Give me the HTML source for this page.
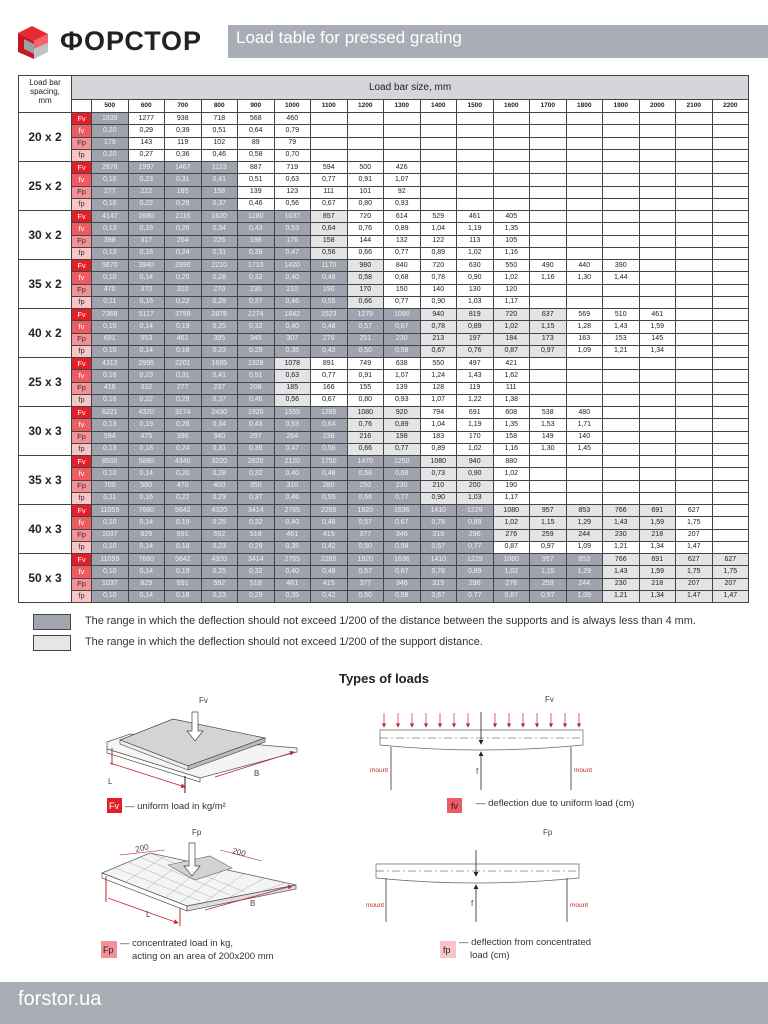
<!DOCTYPE html>
<html><head><meta charset="utf-8">
<style>
*{margin:0;padding:0;box-sizing:border-box}
body{width:768px;height:1024px;position:relative;background:#fff;font-family:"Liberation Sans",sans-serif;color:#222;overflow:hidden}
.abs{position:absolute}
table{position:absolute;left:18px;top:75px;border-collapse:collapse;table-layout:fixed;width:730px;font-size:7px;text-align:center}
td{border:1px solid #444;padding:0;height:12.25px;line-height:10px;overflow:hidden;white-space:nowrap}
td.d{background:#9ea3ad;color:#f2f2f4}
td.l{background:#e4e4e6}
td.g{font-size:12px;font-weight:bold;background:#fff;color:#222}
td.t1{background:#e1202a;color:#fff;font-size:7.5px}
td.t2{background:#ee5c63;color:#fff;font-size:7.5px}
td.t3{background:#f39196;color:#333;font-size:7.5px}
td.t4{background:#f9c4c7;color:#333;font-size:7.5px}
tr.h1 td{height:24px}
tr.h2 td{height:13px;font-weight:bold;font-size:6.5px}
.hd{background:#d4d6da;font-size:10px}
.sm{font-size:8px;line-height:9px}
.leg{font-size:10.9px;color:#333}
</style></head><body>
<!-- header -->
<svg class="abs" style="left:16px;top:25px" width="36" height="36" viewBox="0 0 36 36">
<polygon points="2,8 16,1 32,9 18,16" fill="#e42b32"/>
<polygon points="2,8 18,16 18,34 2,27" fill="#c8161f"/>
<polygon points="18,16 32,9 32,18 18,24" fill="#f0666b"/>
<polygon points="18,24 32,18 32,27 18,34" fill="#bfc2c7"/>
<polygon points="8,14 18,19 18,29 8,24" fill="#9aa0a8"/>
</svg>
<div class="abs" style="left:60px;top:26px;font-size:27px;font-weight:bold;letter-spacing:1px;color:#222">ФОРСТОР</div>
<div class="abs" style="left:228px;top:25px;width:540px;height:33px;background:#a9adb5"></div>
<div class="abs" style="left:236px;top:27px;font-size:17px;color:#fff;line-height:22px">Load table for pressed grating</div>

<table>
<colgroup><col style="width:53px"><col style="width:20px"><col span="18" style="width:36.5px"></colgroup>
<tr class="h1"><td rowspan="2" class="sm" style="vertical-align:top;padding-top:2px">Load bar<br>spacing,<br>mm</td><td colspan="19" class="hd">Load bar size, mm</td></tr>
<tr class="h2"><td></td><td>500</td><td>600</td><td>700</td><td>800</td><td>900</td><td>1000</td><td>1100</td><td>1200</td><td>1300</td><td>1400</td><td>1500</td><td>1600</td><td>1700</td><td>1800</td><td>1900</td><td>2000</td><td>2100</td><td>2200</td></tr>

<tr><td rowspan="4" class="g">20 x 2</td><td class="t1">Fv</td><td class="d">1839</td><td>1277</td><td>938</td><td>718</td><td>568</td><td>460</td><td></td><td></td><td></td><td></td><td></td><td></td><td></td><td></td><td></td><td></td><td></td><td></td></tr>
<tr><td class="t2">fv</td><td class="d">0,20</td><td>0,29</td><td>0,39</td><td>0,51</td><td>0,64</td><td>0,79</td><td></td><td></td><td></td><td></td><td></td><td></td><td></td><td></td><td></td><td></td><td></td><td></td></tr>
<tr><td class="t3">Fp</td><td class="d">179</td><td>143</td><td>119</td><td>102</td><td>89</td><td>79</td><td></td><td></td><td></td><td></td><td></td><td></td><td></td><td></td><td></td><td></td><td></td><td></td></tr>
<tr><td class="t4">fp</td><td class="d">0,20</td><td>0,27</td><td>0,36</td><td>0,46</td><td>0,58</td><td>0,70</td><td></td><td></td><td></td><td></td><td></td><td></td><td></td><td></td><td></td><td></td><td></td><td></td></tr>

<tr><td rowspan="4" class="g">25 x 2</td><td class="t1">Fv</td><td class="d">2876</td><td class="d">1997</td><td class="d">1467</td><td class="d">1123</td><td>887</td><td>719</td><td>594</td><td>500</td><td>426</td><td></td><td></td><td></td><td></td><td></td><td></td><td></td><td></td><td></td></tr>
<tr><td class="t2">fv</td><td class="d">0,16</td><td class="d">0,23</td><td class="d">0,31</td><td class="d">0,41</td><td>0,51</td><td>0,63</td><td>0,77</td><td>0,91</td><td>1,07</td><td></td><td></td><td></td><td></td><td></td><td></td><td></td><td></td><td></td></tr>
<tr><td class="t3">Fp</td><td class="d">277</td><td class="d">222</td><td class="d">185</td><td class="d">158</td><td>139</td><td>123</td><td>111</td><td>101</td><td>92</td><td></td><td></td><td></td><td></td><td></td><td></td><td></td><td></td><td></td></tr>
<tr><td class="t4">fp</td><td class="d">0,16</td><td class="d">0,22</td><td class="d">0,29</td><td class="d">0,37</td><td>0,46</td><td>0,56</td><td>0,67</td><td>0,80</td><td>0,93</td><td></td><td></td><td></td><td></td><td></td><td></td><td></td><td></td><td></td></tr>

<tr><td rowspan="4" class="g">30 x 2</td><td class="t1">Fv</td><td class="d">4147</td><td class="d">2880</td><td class="d">2116</td><td class="d">1620</td><td class="d">1280</td><td class="d">1037</td><td class="l">857</td><td>720</td><td>614</td><td>529</td><td>461</td><td>405</td><td></td><td></td><td></td><td></td><td></td><td></td></tr>
<tr><td class="t2">fv</td><td class="d">0,13</td><td class="d">0,19</td><td class="d">0,26</td><td class="d">0,34</td><td class="d">0,43</td><td class="d">0,53</td><td class="l">0,64</td><td>0,76</td><td>0,89</td><td>1,04</td><td>1,19</td><td>1,35</td><td></td><td></td><td></td><td></td><td></td><td></td></tr>
<tr><td class="t3">Fp</td><td class="d">398</td><td class="d">317</td><td class="d">264</td><td class="d">226</td><td class="d">198</td><td class="d">176</td><td class="l">158</td><td>144</td><td>132</td><td>122</td><td>113</td><td>105</td><td></td><td></td><td></td><td></td><td></td><td></td></tr>
<tr><td class="t4">fp</td><td class="d">0,13</td><td class="d">0,18</td><td class="d">0,24</td><td class="d">0,31</td><td class="d">0,39</td><td class="d">0,47</td><td class="l">0,56</td><td>0,66</td><td>0,77</td><td>0,89</td><td>1,02</td><td>1,16</td><td></td><td></td><td></td><td></td><td></td><td></td></tr>

<tr><td rowspan="4" class="g">35 x 2</td><td class="t1">Fv</td><td class="d">5670</td><td class="d">3940</td><td class="d">2890</td><td class="d">2210</td><td class="d">1710</td><td class="d">1420</td><td class="d">1170</td><td class="l">980</td><td>840</td><td>720</td><td>630</td><td>550</td><td>490</td><td>440</td><td>390</td><td></td><td></td><td></td></tr>
<tr><td class="t2">fv</td><td class="d">0,10</td><td class="d">0,14</td><td class="d">0,20</td><td class="d">0,28</td><td class="d">0,32</td><td class="d">0,40</td><td class="d">0,48</td><td class="l">0,58</td><td>0,68</td><td>0,78</td><td>0,90</td><td>1,02</td><td>1,16</td><td>1,30</td><td>1,44</td><td></td><td></td><td></td></tr>
<tr><td class="t3">Fp</td><td class="d">470</td><td class="d">370</td><td class="d">310</td><td class="d">270</td><td class="d">230</td><td class="d">210</td><td class="d">190</td><td class="l">170</td><td>150</td><td>140</td><td>130</td><td>120</td><td></td><td></td><td></td><td></td><td></td><td></td></tr>
<tr><td class="t4">fp</td><td class="d">0,11</td><td class="d">0,16</td><td class="d">0,22</td><td class="d">0,29</td><td class="d">0,37</td><td class="d">0,46</td><td class="d">0,55</td><td class="l">0,66</td><td>0,77</td><td>0,90</td><td>1,03</td><td>1,17</td><td></td><td></td><td></td><td></td><td></td><td></td></tr>

<tr><td rowspan="4" class="g">40 x 2</td><td class="t1">Fv</td><td class="d">7368</td><td class="d">5117</td><td class="d">3759</td><td class="d">2878</td><td class="d">2274</td><td class="d">1842</td><td class="d">1523</td><td class="d">1279</td><td class="d">1090</td><td class="l">940</td><td class="l">819</td><td class="l">720</td><td class="l">637</td><td>569</td><td>510</td><td>461</td><td></td><td></td></tr>
<tr><td class="t2">fv</td><td class="d">0,10</td><td class="d">0,14</td><td class="d">0,19</td><td class="d">0,25</td><td class="d">0,32</td><td class="d">0,40</td><td class="d">0,48</td><td class="d">0,57</td><td class="d">0,67</td><td class="l">0,78</td><td class="l">0,89</td><td class="l">1,02</td><td class="l">1,15</td><td>1,28</td><td>1,43</td><td>1,59</td><td></td><td></td></tr>
<tr><td class="t3">Fp</td><td class="d">691</td><td class="d">553</td><td class="d">461</td><td class="d">395</td><td class="d">345</td><td class="d">307</td><td class="d">276</td><td class="d">251</td><td class="d">230</td><td class="l">213</td><td class="l">197</td><td class="l">184</td><td class="l">173</td><td>163</td><td>153</td><td>145</td><td></td><td></td></tr>
<tr><td class="t4">fp</td><td class="d">0,10</td><td class="d">0,14</td><td class="d">0,18</td><td class="d">0,23</td><td class="d">0,29</td><td class="d">0,35</td><td class="d">0,42</td><td class="d">0,50</td><td class="d">0,58</td><td class="l">0,67</td><td class="l">0,76</td><td class="l">0,87</td><td class="l">0,97</td><td>1,09</td><td>1,21</td><td>1,34</td><td></td><td></td></tr>

<tr><td rowspan="4" class="g">25 x 3</td><td class="t1">Fv</td><td class="d">4313</td><td class="d">2995</td><td class="d">2201</td><td class="d">1685</td><td class="d">1328</td><td class="l">1078</td><td>891</td><td>749</td><td>638</td><td>550</td><td>497</td><td>421</td><td></td><td></td><td></td><td></td><td></td><td></td></tr>
<tr><td class="t2">fv</td><td class="d">0,16</td><td class="d">0,23</td><td class="d">0,31</td><td class="d">0,41</td><td class="d">0,51</td><td class="l">0,63</td><td>0,77</td><td>0,91</td><td>1,07</td><td>1,24</td><td>1,43</td><td>1,62</td><td></td><td></td><td></td><td></td><td></td><td></td></tr>
<tr><td class="t3">Fp</td><td class="d">416</td><td class="d">332</td><td class="d">277</td><td class="d">237</td><td class="d">208</td><td class="l">185</td><td>166</td><td>155</td><td>139</td><td>128</td><td>119</td><td>111</td><td></td><td></td><td></td><td></td><td></td><td></td></tr>
<tr><td class="t4">fp</td><td class="d">0,16</td><td class="d">0,22</td><td class="d">0,29</td><td class="d">0,37</td><td class="d">0,46</td><td class="l">0,56</td><td>0,67</td><td>0,80</td><td>0,93</td><td>1,07</td><td>1,22</td><td>1,38</td><td></td><td></td><td></td><td></td><td></td><td></td></tr>

<tr><td rowspan="4" class="g">30 x 3</td><td class="t1">Fv</td><td class="d">6221</td><td class="d">4320</td><td class="d">3174</td><td class="d">2430</td><td class="d">1920</td><td class="d">1555</td><td class="d">1285</td><td class="l">1080</td><td class="l">920</td><td>794</td><td>691</td><td>608</td><td>538</td><td>480</td><td></td><td></td><td></td><td></td></tr>
<tr><td class="t2">fv</td><td class="d">0,13</td><td class="d">0,19</td><td class="d">0,26</td><td class="d">0,34</td><td class="d">0,43</td><td class="d">0,53</td><td class="d">0,64</td><td class="l">0,76</td><td class="l">0,89</td><td>1,04</td><td>1,19</td><td>1,35</td><td>1,53</td><td>1,71</td><td></td><td></td><td></td><td></td></tr>
<tr><td class="t3">Fp</td><td class="d">594</td><td class="d">475</td><td class="d">396</td><td class="d">340</td><td class="d">297</td><td class="d">264</td><td class="d">238</td><td class="l">216</td><td class="l">198</td><td>183</td><td>170</td><td>158</td><td>149</td><td>140</td><td></td><td></td><td></td><td></td></tr>
<tr><td class="t4">fp</td><td class="d">0,13</td><td class="d">0,18</td><td class="d">0,24</td><td class="d">0,31</td><td class="d">0,39</td><td class="d">0,47</td><td class="d">0,56</td><td class="l">0,66</td><td class="l">0,77</td><td>0,89</td><td>1,02</td><td>1,16</td><td>1,30</td><td>1,45</td><td></td><td></td><td></td><td></td></tr>

<tr><td rowspan="4" class="g">35 x 3</td><td class="t1">Fv</td><td class="d">8500</td><td class="d">5880</td><td class="d">4340</td><td class="d">3220</td><td class="d">2620</td><td class="d">2120</td><td class="d">1750</td><td class="d">1470</td><td class="d">1250</td><td class="l">1080</td><td class="l">940</td><td>880</td><td></td><td></td><td></td><td></td><td></td><td></td></tr>
<tr><td class="t2">fv</td><td class="d">0,10</td><td class="d">0,14</td><td class="d">0,20</td><td class="d">0,28</td><td class="d">0,32</td><td class="d">0,40</td><td class="d">0,48</td><td class="d">0,58</td><td class="d">0,68</td><td class="l">0,73</td><td class="l">0,90</td><td>1,02</td><td></td><td></td><td></td><td></td><td></td><td></td></tr>
<tr><td class="t3">Fp</td><td class="d">700</td><td class="d">560</td><td class="d">470</td><td class="d">400</td><td class="d">350</td><td class="d">310</td><td class="d">280</td><td class="d">250</td><td class="d">230</td><td class="l">210</td><td class="l">200</td><td>190</td><td></td><td></td><td></td><td></td><td></td><td></td></tr>
<tr><td class="t4">fp</td><td class="d">0,11</td><td class="d">0,16</td><td class="d">0,22</td><td class="d">0,29</td><td class="d">0,37</td><td class="d">0,46</td><td class="d">0,55</td><td class="d">0,66</td><td class="d">0,77</td><td class="l">0,90</td><td class="l">1,03</td><td>1,17</td><td></td><td></td><td></td><td></td><td></td><td></td></tr>

<tr><td rowspan="4" class="g">40 x 3</td><td class="t1">Fv</td><td class="d">11059</td><td class="d">7680</td><td class="d">5642</td><td class="d">4320</td><td class="d">3414</td><td class="d">2765</td><td class="d">2285</td><td class="d">1920</td><td class="d">1636</td><td class="d">1410</td><td class="d">1229</td><td class="l">1080</td><td class="l">957</td><td class="l">853</td><td class="l">766</td><td class="l">691</td><td>627</td><td></td></tr>
<tr><td class="t2">fv</td><td class="d">0,10</td><td class="d">0,14</td><td class="d">0,19</td><td class="d">0,25</td><td class="d">0,32</td><td class="d">0,40</td><td class="d">0,48</td><td class="d">0,57</td><td class="d">0,67</td><td class="d">0,78</td><td class="d">0,89</td><td class="l">1,02</td><td class="l">1,15</td><td class="l">1,29</td><td class="l">1,43</td><td class="l">1,59</td><td>1,75</td><td></td></tr>
<tr><td class="t3">Fp</td><td class="d">1037</td><td class="d">829</td><td class="d">691</td><td class="d">592</td><td class="d">518</td><td class="d">461</td><td class="d">415</td><td class="d">377</td><td class="d">346</td><td class="d">319</td><td class="d">296</td><td class="l">276</td><td class="l">259</td><td class="l">244</td><td class="l">230</td><td class="l">218</td><td>207</td><td></td></tr>
<tr><td class="t4">fp</td><td class="d">0,10</td><td class="d">0,14</td><td class="d">0,18</td><td class="d">0,23</td><td class="d">0,29</td><td class="d">0,35</td><td class="d">0,42</td><td class="d">0,50</td><td class="d">0,58</td><td class="d">0,67</td><td class="d">0,77</td><td>0,87</td><td>0,97</td><td>1,09</td><td>1,21</td><td>1,34</td><td>1,47</td><td></td></tr>

<tr><td rowspan="4" class="g">50 x 3</td><td class="t1">Fv</td><td class="d">11059</td><td class="d">7680</td><td class="d">5642</td><td class="d">4320</td><td class="d">3414</td><td class="d">2765</td><td class="d">2285</td><td class="d">1920</td><td class="d">1636</td><td class="d">1410</td><td class="d">1229</td><td class="d">1080</td><td class="d">957</td><td class="d">853</td><td class="l">766</td><td class="l">691</td><td class="l">627</td><td class="l">627</td></tr>
<tr><td class="t2">fv</td><td class="d">0,10</td><td class="d">0,14</td><td class="d">0,19</td><td class="d">0,25</td><td class="d">0,32</td><td class="d">0,40</td><td class="d">0,48</td><td class="d">0,57</td><td class="d">0,67</td><td class="d">0,78</td><td class="d">0,89</td><td class="d">1,02</td><td class="d">1,15</td><td class="d">1,29</td><td class="l">1,43</td><td class="l">1,59</td><td class="l">1,75</td><td class="l">1,75</td></tr>
<tr><td class="t3">Fp</td><td class="d">1037</td><td class="d">829</td><td class="d">691</td><td class="d">592</td><td class="d">518</td><td class="d">461</td><td class="d">415</td><td class="d">377</td><td class="d">346</td><td class="d">319</td><td class="d">296</td><td class="d">276</td><td class="d">259</td><td class="d">244</td><td class="l">230</td><td class="l">218</td><td class="l">207</td><td class="l">207</td></tr>
<tr><td class="t4">fp</td><td class="d">0,10</td><td class="d">0,14</td><td class="d">0,18</td><td class="d">0,23</td><td class="d">0,29</td><td class="d">0,35</td><td class="d">0,42</td><td class="d">0,50</td><td class="d">0,58</td><td class="d">0,67</td><td class="d">0,77</td><td class="d">0,87</td><td class="d">0,97</td><td class="d">1,09</td><td class="l">1,21</td><td class="l">1,34</td><td class="l">1,47</td><td class="l">1,47</td></tr>
</table>

<!-- legend -->
<div class="abs" style="left:33px;top:614px;width:38px;height:16px;background:#a1a6b0;border:1px solid #444"></div>
<div class="abs leg" style="left:85px;top:615px">The range in which the deflection should not exceed 1/200 of the distance between the supports and is always less than 4 mm.</div>
<div class="abs" style="left:33px;top:635px;width:38px;height:16px;background:#e6e6e8;border:1px solid #444"></div>
<div class="abs leg" style="left:85px;top:636px">The range in which the deflection should not exceed 1/200 of the support distance.</div>

<div class="abs" style="left:0;width:768px;top:671px;text-align:center;font-size:13px;font-weight:bold">Types of loads</div>

<svg class="abs" style="left:0;top:680px" width="768" height="300" viewBox="0 680 768 300" font-family="Liberation Sans, sans-serif">
<defs>
<marker id="ar" markerWidth="6" markerHeight="6" refX="5" refY="3" orient="auto"><path d="M0,0 L6,3 L0,6z" fill="#c0272d"/></marker>
<marker id="ak" markerWidth="6" markerHeight="6" refX="5" refY="3" orient="auto"><path d="M0,0 L6,3 L0,6z" fill="#222"/></marker>
</defs>
<!-- top left plate -->
<polygon points="107,742 130,734 297,748 297,752 200,778 107,749" fill="#f4f4f4" stroke="#555" stroke-width="0.7"/>
<polygon points="107,749 200,778 200,782 107,753" fill="#fff" stroke="#555" stroke-width="0.7"/>
<polygon points="120,740 173,719 265,738 188,766" fill="#d4d4d4" stroke="#444" stroke-width="0.7"/>
<polygon points="188,766 265,738 265,742 188,770" fill="#bbb" stroke="#444" stroke-width="0.6"/>
<polygon points="120,740 188,766 188,770 120,744" fill="#eee" stroke="#444" stroke-width="0.6"/>
<polygon points="198,712 198,731 203,731 195,741 187,731 192,731 192,712" fill="#fff" stroke="#444" stroke-width="0.7"/>
<text x="199" y="703" font-size="8" fill="#444">Fv</text>
<line x1="110" y1="763" x2="185" y2="787" stroke="#c0272d" stroke-width="0.8" marker-end="url(#ar)"/>
<line x1="112" y1="748" x2="112" y2="765" stroke="#c0272d"/>
<line x1="185" y1="776" x2="185" y2="793" stroke="#222"/>
<text x="108" y="784" font-size="8" fill="#444">L</text>
<line x1="215" y1="777" x2="294" y2="752" stroke="#c0272d" stroke-width="0.8" marker-end="url(#ar)"/>
<text x="254" y="776" font-size="8" fill="#444">B</text>
<rect x="107" y="798" width="15" height="15" fill="#e1202a"/>
<text x="109" y="809" font-size="9" fill="#fff">Fv</text>
<text x="125" y="809" font-size="9.5" fill="#333">— uniform load in kg/m²</text>
<!-- top right beam -->
<text x="545" y="702" font-size="8" fill="#444">Fv</text>
<path d="M380,730 L583,730 L583,745 Q481,755 380,745 Z" fill="#fff" stroke="#666" stroke-width="0.7"/>
<line x1="380" y1="738" x2="583" y2="738" stroke="#444" stroke-dasharray="8,3,2,3" stroke-width="0.6"/>
<line x1="391" y1="747" x2="391" y2="790" stroke="#333" stroke-width="0.8"/>
<line x1="571" y1="747" x2="571" y2="790" stroke="#333" stroke-width="0.8"/>
<g stroke="#c0272d" stroke-width="0.7">
<line x1="384" y1="713" x2="384" y2="727" marker-end="url(#ar)"/><line x1="398" y1="713" x2="398" y2="727" marker-end="url(#ar)"/><line x1="412" y1="713" x2="412" y2="727" marker-end="url(#ar)"/><line x1="426" y1="713" x2="426" y2="727" marker-end="url(#ar)"/><line x1="440" y1="713" x2="440" y2="727" marker-end="url(#ar)"/><line x1="454" y1="713" x2="454" y2="727" marker-end="url(#ar)"/><line x1="468" y1="713" x2="468" y2="727" marker-end="url(#ar)"/><line x1="495" y1="713" x2="495" y2="727" marker-end="url(#ar)"/><line x1="509" y1="713" x2="509" y2="727" marker-end="url(#ar)"/><line x1="523" y1="713" x2="523" y2="727" marker-end="url(#ar)"/><line x1="537" y1="713" x2="537" y2="727" marker-end="url(#ar)"/><line x1="551" y1="713" x2="551" y2="727" marker-end="url(#ar)"/><line x1="565" y1="713" x2="565" y2="727" marker-end="url(#ar)"/><line x1="579" y1="713" x2="579" y2="727" marker-end="url(#ar)"/>
</g>
<line x1="481" y1="712" x2="481" y2="744" stroke="#222" stroke-width="0.8" marker-end="url(#ak)"/>
<line x1="481" y1="790" x2="481" y2="752" stroke="#222" stroke-width="0.8" marker-end="url(#ak)"/>
<text x="476" y="774" font-size="8" fill="#444">f</text>
<text x="370" y="772" font-size="6.5" fill="#c0272d">mount</text>
<text x="574" y="772" font-size="6.5" fill="#c0272d">mount</text>
<rect x="447" y="798" width="15" height="15" fill="#ee5c63"/>
<text x="451" y="809" font-size="9" fill="#222">fv</text>
<text x="476" y="806" font-size="9.5" fill="#333">— deflection due to uniform load (cm)</text>
<!-- bottom left grating -->
<polygon points="102,873 150,853 296,885 187,906" fill="#f4f4f4" stroke="#555" stroke-width="0.7"/>
<polygon points="102,873 187,906 187,911 102,878" fill="#fff" stroke="#555" stroke-width="0.7"/>
<polygon points="187,906 296,885 296,889 187,911" fill="#ddd" stroke="#555" stroke-width="0.7"/>
<g stroke="#999" stroke-width="0.4">
<line x1="115" y1="868" x2="200" y2="901"/><line x1="128" y1="862" x2="213" y2="898"/><line x1="140" y1="857" x2="230" y2="895"/><line x1="150" y1="853" x2="245" y2="892"/>
<line x1="165" y1="856" x2="125" y2="882"/><line x1="185" y1="860" x2="145" y2="890"/><line x1="205" y1="865" x2="165" y2="898"/><line x1="225" y1="869" x2="180" y2="903"/><line x1="245" y1="873" x2="205" y2="902"/><line x1="265" y1="878" x2="230" y2="897"/><line x1="285" y1="883" x2="260" y2="892"/>
</g>
<polygon points="168,865 210,856 232,868 195,880" fill="#d2d2d2" stroke="#666" stroke-width="0.6"/>
<polygon points="195,843 195,866 200,866 192,876 184,866 189,866 189,843" fill="#fff" stroke="#444" stroke-width="0.7"/>
<text x="192" y="835" font-size="8" fill="#444">Fp</text>
<line x1="120" y1="855" x2="165" y2="850" stroke="#c0272d" stroke-width="0.6"/>
<text x="136" y="852" font-size="8" fill="#444" transform="rotate(-12 136 852)">200</text>
<line x1="220" y1="850" x2="262" y2="861" stroke="#c0272d" stroke-width="0.6"/>
<text x="232" y="853" font-size="8" fill="#444" transform="rotate(15 232 853)">200</text>
<line x1="106" y1="876" x2="106" y2="902" stroke="#c0272d"/>
<line x1="108" y1="898" x2="178" y2="923" stroke="#c0272d" stroke-width="0.8" marker-end="url(#ar)"/>
<line x1="180" y1="908" x2="180" y2="926" stroke="#c0272d"/>
<text x="146" y="917" font-size="8" fill="#444">L</text>
<line x1="205" y1="910" x2="292" y2="886" stroke="#c0272d" stroke-width="0.8" marker-end="url(#ar)"/>
<text x="250" y="906" font-size="8" fill="#444">B</text>
<rect x="101" y="941" width="16" height="17" fill="#f39196"/>
<text x="103" y="953" font-size="9" fill="#222">Fp</text>
<text x="120" y="946" font-size="9.5" fill="#333">— concentrated load in kg,</text>
<text x="132" y="959" font-size="9.5" fill="#333">acting on an area of 200x200 mm</text>
<!-- bottom right beam -->
<text x="543" y="835" font-size="8" fill="#444">Fp</text>
<path d="M376,864 L579,864 L579,878 Q476,888 376,878 Z" fill="#fff" stroke="#666" stroke-width="0.7"/>
<line x1="376" y1="871" x2="579" y2="871" stroke="#444" stroke-dasharray="8,3,2,3" stroke-width="0.6"/>
<line x1="386" y1="878" x2="386" y2="922" stroke="#333" stroke-width="0.8"/>
<line x1="567" y1="878" x2="567" y2="922" stroke="#333" stroke-width="0.8"/>
<line x1="476" y1="850" x2="476" y2="876" stroke="#222" stroke-width="0.8" marker-end="url(#ak)"/>
<line x1="476" y1="922" x2="476" y2="885" stroke="#222" stroke-width="0.8" marker-end="url(#ak)"/>
<text x="471" y="906" font-size="8" fill="#444">f</text>
<text x="366" y="907" font-size="6.5" fill="#c0272d">mount</text>
<text x="570" y="907" font-size="6.5" fill="#c0272d">mount</text>
<rect x="440" y="941" width="16" height="17" fill="#f9c4c7"/>
<text x="443" y="953" font-size="9" fill="#222">fp</text>
<text x="459" y="945" font-size="9.5" fill="#333">— deflection from concentrated</text>
<text x="470" y="958" font-size="9.5" fill="#333">load (cm)</text>
</svg>

<div class="abs" style="left:0;top:982px;width:768px;height:42px;background:#a8acb3"></div>
<div class="abs" style="left:18px;top:988px;font-size:20px;color:#fff">forstor.ua</div>
</body></html>
